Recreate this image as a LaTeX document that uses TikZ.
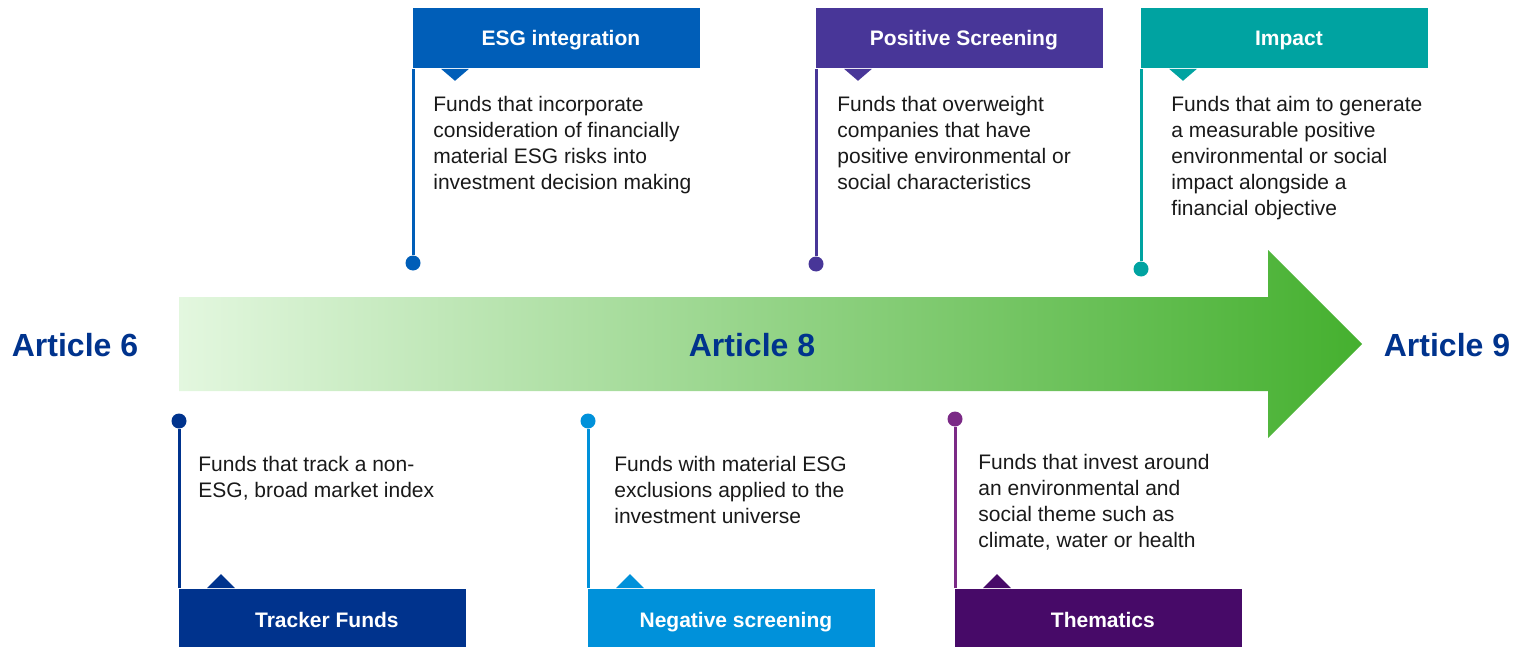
\documentclass[tikz,border=0pt]{standalone}
\usepackage{fontspec}
\setmainfont{Liberation Sans}
\usepackage{tikz}
\usetikzlibrary{positioning}

\definecolor{artblue}{HTML}{00338D}
\definecolor{esgblue}{HTML}{005EB8}
\definecolor{posviolet}{HTML}{483698}
\definecolor{impteal}{HTML}{00A3A1}
\definecolor{trkblue}{HTML}{00338D}
\definecolor{negblue}{HTML}{0091DA}
\definecolor{thmpurple}{HTML}{470A68}
\definecolor{thmline}{HTML}{7B2A86}
\definecolor{arrlight}{HTML}{E3F7DF}
\definecolor{arrmid}{HTML}{A2E394}
\definecolor{arrdark}{HTML}{45B02F}

\begin{document}
\begin{tikzpicture}[x=0.5pt,y=-0.5pt]
\tikzstyle{head}=[rectangle, anchor=north west, minimum width=143.5pt, minimum height=30pt, inner sep=0pt, text height=0.72em, text depth=0pt, text=white, font=\bfseries\fontsize{10.5}{13}\selectfont, execute at begin node=\hspace*{4pt}]
\tikzstyle{foot}=[head, anchor=south west, minimum height=29pt, text height=1em]
\tikzstyle{body}=[anchor=north west, align=left, inner sep=0pt, text=black!90, font=\fontsize{10.5}{13}\selectfont]
\tikzstyle{dot}=[circle, inner sep=0pt, minimum size=7.5pt]
\tikzstyle{stem}=[line width=1.5pt]
\tikzstyle{article}=[text=artblue, font=\bfseries\fontsize{16}{19}\selectfont]
  \useasboundingbox (0,0) rectangle (1520,647);

  % the big arrow
  \shade[left color=arrlight, middle color=arrmid, right color=arrdark]
    (179,297) -- (1268,297) -- (1268,250) -- (1362,344) -- (1268,438) -- (1268,391) -- (179,391) -- cycle;

  \node[article] (art6) at (75,345) {Article 6};
  \node[article] (art8) at (752,345) {Article 8};
  \node[article] (art9) at (1447,345) {Article 9};

  % callouts above the arrow
  \node[head, fill=esgblue] (esg) at (413,8) {ESG integration};
  \node[head, fill=posviolet] (pos) at (816,8) {Positive Screening};
  \node[head, fill=impteal] (imp) at (1141,8) {Impact};
  \fill[esgblue] ([xshift=14pt]esg.south west) -- ++(7pt,-6pt) -- ++(7pt,6pt) -- cycle;
  \fill[posviolet] ([xshift=14pt]pos.south west) -- ++(7pt,-6pt) -- ++(7pt,6pt) -- cycle;
  \fill[impteal] ([xshift=14pt]imp.south west) -- ++(7pt,-6pt) -- ++(7pt,6pt) -- cycle;

  \node[body] (esgtxt) at (433,96) {Funds that incorporate\\consideration of financially\\material ESG risks into\\investment decision making};
  \node[body] (postxt) at (837,96) {Funds that overweight\\companies that have\\positive environmental or\\social characteristics};
  \node[body] (imptxt) at (1171,96) {Funds that aim to generate\\a measurable positive\\environmental or social\\impact alongside a\\financial objective};

  \node[dot, fill=esgblue] (esgdot) at (413,263) {};
  \node[dot, fill=posviolet] (posdot) at (816,264) {};
  \node[dot, fill=impteal] (impdot) at (1141,269) {};
  \draw[stem, esgblue] (esg.south west) -- (esgdot);
  \draw[stem, posviolet] (pos.south west) -- (posdot);
  \draw[stem, impteal] (imp.south west) -- (impdot);

  % callouts below the arrow
  \node[foot, fill=trkblue] (trk) at (179,647) {Tracker Funds};
  \node[foot, fill=negblue] (neg) at (588,647) {Negative screening};
  \node[foot, fill=thmpurple] (thm) at (955,647) {Thematics};
  \fill[trkblue] ([xshift=14pt]trk.north west) -- ++(7pt,7pt) -- ++(7pt,-7pt) -- cycle;
  \fill[negblue] ([xshift=14pt]neg.north west) -- ++(7pt,7pt) -- ++(7pt,-7pt) -- cycle;
  \fill[thmpurple] ([xshift=14pt]thm.north west) -- ++(7pt,7pt) -- ++(7pt,-7pt) -- cycle;

  \node[body] (trktxt) at (198,456) {Funds that track a non-\\ESG, broad market index};
  \node[body] (negtxt) at (614,456) {Funds with material ESG\\exclusions applied to the\\investment universe};
  \node[body] (thmtxt) at (978,454) {Funds that invest around\\an environmental and\\social theme such as\\climate, water or health};

  \node[dot, fill=trkblue] (trkdot) at (179,421) {};
  \node[dot, fill=negblue] (negdot) at (588,421) {};
  \node[dot, fill=thmline] (thmdot) at (955,419) {};
  \draw[stem, trkblue] (trkdot) -- (trk.north west);
  \draw[stem, negblue] (negdot) -- (neg.north west);
  \draw[stem, thmline] (thmdot) -- (thm.north west);
\end{tikzpicture}
\end{document}
